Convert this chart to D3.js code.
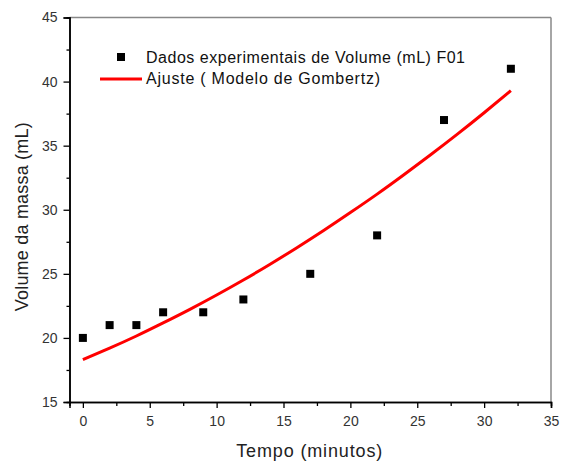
<!DOCTYPE html>
<html>
<head>
<meta charset="utf-8">
<script src="https://cdn.jsdelivr.net/npm/d3@7"></script>
<style>
body { margin:0; background:#fff; }
text { font-family: "Liberation Sans", Arial, sans-serif; }
</style>
</head>
<body>
<script>
// dados experimentais
var tempo = [0, 2, 4, 6, 9, 12, 17, 22, 27, 32];
var volume = [20, 21, 21, 22, 22, 23, 25, 28, 37, 41];

// curva de ajuste
var ajusteT = [0, 2, 4, 6, 8, 10, 12, 14, 16, 18, 20, 22, 24, 26, 28, 30, 32];
var ajusteV = [18.3, 19.2, 20.15, 21.17, 22.23, 23.35, 24.52, 25.75, 27.04, 28.38, 29.78, 31.22, 32.73, 34.29, 35.9, 37.57, 39.3];

var xTicks = [0, 5, 10, 15, 20, 25, 30, 35];
var yTicks = [15, 20, 25, 30, 35, 40, 45];

var W = 561, H = 461;
var pL = 69.5, pR = 551, pT = 17.5, pB = 402;

var svg = d3.select("body").append("svg").attr("width", W).attr("height", H);

var x = d3.scaleLinear().domain([-1, 35]).range([pL, pR]);
var y = d3.scaleLinear().domain([15, 45]).range([pB, pT]);

// bordas superior e direita
svg.append("line").attr("x1", pL).attr("x2", pR).attr("y1", pT).attr("y2", pT)
	.attr("stroke", "#888").attr("stroke-width", 1.5);
svg.append("line").attr("x1", pR).attr("x2", pR).attr("y1", pT).attr("y2", pB)
	.attr("stroke", "#888").attr("stroke-width", 1.5);

// ticks menores
var xMinor = d3.range(2.5, 35, 5);
var yMinor = d3.range(17.5, 45, 5);

var gx = svg.append("g").attr("transform", "translate(0," + pB + ")");
gx.call(d3.axisBottom(x).tickValues(xMinor).tickSize(4).tickFormat(""));
gx.append("g").call(d3.axisBottom(x).tickValues(xTicks).tickSize(6).tickPadding(8));

var gy = svg.append("g").attr("transform", "translate(" + pL + ",0)");
gy.call(d3.axisLeft(y).tickValues(yMinor).tickSize(3).tickFormat(""));
gy.append("g").call(d3.axisLeft(y).tickValues(yTicks).tickSize(6).tickPadding(6));

svg.selectAll(".domain").attr("stroke", "#000").attr("stroke-width", 1.5);
svg.selectAll(".tick line").attr("stroke", "#000").attr("stroke-width", 1.3);
svg.selectAll(".tick text").attr("fill", "#333").style("font-size", "14px");

// titulos dos eixos
svg.append("text").attr("x", (pL + pR) / 2 - 1).attr("y", 457).attr("text-anchor", "middle")
	.style("font-size", "18px").attr("fill", "#222")
	.attr("textLength", 146).attr("lengthAdjust", "spacing").text("Tempo (minutos)");
svg.append("text").attr("transform", "translate(28," + ((pT + pB) / 2 + 7) + ") rotate(-90)")
	.attr("text-anchor", "middle").style("font-size", "18px").attr("fill", "#222")
	.attr("textLength", 189).attr("lengthAdjust", "spacing").text("Volume da massa (mL)");

// curva de ajuste
var linha = d3.line().x(function (d, i) { return x(ajusteT[i]); }).y(function (d) { return y(d); })
	.curve(d3.curveNatural);
svg.append("path").datum(ajusteV).attr("d", linha).attr("fill", "none")
	.attr("stroke", "#f00").attr("stroke-width", 3);

// pontos
svg.selectAll(".pt").data(volume).enter().append("rect").attr("class", "pt")
	.attr("x", function (d, i) { return x(tempo[i]) - 4; })
	.attr("y", function (d) { return y(d) - 4; })
	.attr("width", 8).attr("height", 8).attr("fill", "#000");

// legenda
var leg = svg.append("g");
leg.append("rect").attr("x", 117).attr("y", 53).attr("width", 8).attr("height", 8).attr("fill", "#000");
leg.append("text").attr("x", 146).attr("y", 63).style("font-size", "16px").attr("fill", "#111")
	.attr("textLength", 319).attr("lengthAdjust", "spacing")
	.text("Dados experimentais de Volume (mL) F01");
leg.append("line").attr("x1", 100).attr("x2", 142).attr("y1", 79).attr("y2", 79)
	.attr("stroke", "#f00").attr("stroke-width", 3);
leg.append("text").attr("x", 146).attr("y", 84).style("font-size", "16px").attr("fill", "#111")
	.attr("textLength", 234).attr("lengthAdjust", "spacing")
	.text("Ajuste ( Modelo de Gombertz)");
</script>
</body>
</html>
